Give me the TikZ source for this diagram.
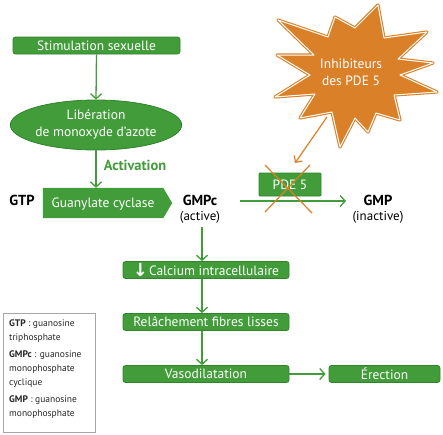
\documentclass[tikz,border=0pt]{standalone}
\usepackage{fontspec}
\setmainfont{PT Sans}
\newfontfamily\symfont{DejaVu Sans}
\usetikzlibrary{arrows.meta,shapes.geometric,calc}
\definecolor{gr}{RGB}{66,156,58}
\definecolor{grd}{RGB}{48,132,44}
\definecolor{org}{RGB}{217,128,40}
\begin{document}
\begin{tikzpicture}[x=1pt,y=-1pt,
  box/.style={draw=grd, fill=gr, rounded corners=2.5pt, line width=0.8pt, text=white,
    font=\fontsize{13.5}{15}\selectfont, minimum height=17pt, minimum width=166pt, inner sep=0pt},
  conn/.style={draw=gr, line width=1.3pt, -{Straight Barb[length=5pt,width=11pt,line width=1.3pt]}},
  oconn/.style={draw=org, line width=1.2pt, -{Straight Barb[length=5pt,width=10pt,line width=1.2pt]}},
  blk/.style={font=\fontsize{14.5}{16}\selectfont\bfseries, inner sep=0pt},
  sub/.style={font=\fontsize{13}{15}\selectfont, inner sep=0pt}]
\useasboundingbox (0,0) rectangle (443,434);

% top chain
\node[box, minimum width=167pt] (stim) at (96.5,45.5) {Stimulation sexuelle};
\node[ellipse, fill=gr, draw=grd, line width=0.8pt, minimum width=164pt, minimum height=50pt,
  text=white, align=center, inner sep=0pt, font=\fontsize{13.5}{17}\selectfont] (nox) at (96,125)
  {Libération\\de monoxyde d'azote};
\draw[conn] (stim.south) -- (nox.north);

% guanylate cyclase
\node[inner sep=0pt, minimum width=120pt, minimum height=30pt] (gcb) at (103,203) {};
\fill[gr] (gcb.north west) -- (gcb.north east) -- ($(gcb.east)+(9,0)$) -- (gcb.south east) -- (gcb.south west) -- cycle;
\node[text=white, font=\fontsize{13.5}{15}\selectfont, inner sep=0pt] (gc) at (103,204) {Guanylate cyclase};
\draw[conn] (nox.south) -- (nox.south |- gcb.north);
\node[text=gr, font=\fontsize{14.5}{16}\selectfont\bfseries, inner sep=0pt] (act) at (135,165) {Activation};

\node[blk] (gtp) at (22,200) {GTP};
\node[blk] (gmpc) at (200,200) {GMPc};
\node[sub] (active) at (200,217) {(active)};
\node[blk] (gmp) at (378,200) {GMP};
\node[sub] (inactive) at (378,217) {(inactive)};

% lower chain
\coordinate (vx) at (202,0);
\node[box] (ca) at (206,270) {\raisebox{-1pt}{\symfont\fontsize{18}{15}\selectfont\bfseries ↓}\hspace{1pt}Calcium intracellulaire};
\node[box] (rel) at (206,322) {Relâchement fibres lisses};
\node[box] (vaso) at (206,374) {Vasodilatation};
\node[box, minimum width=111pt] (ere) at (384.5,374) {Érection};
\draw[conn] (active.south -| vx) ++(0,4) -- (ca.north -| vx);
\draw[conn] (ca.south -| vx) -- (rel.north -| vx);
\draw[conn] (rel.south -| vx) -- (vaso.north -| vx);
\draw[conn] (vaso.east) -- ([xshift=-3pt]ere.west);

% PDE 5
\node[box, minimum width=62pt, minimum height=23pt, rounded corners=1pt] (pde) at (290,184.5) {PDE 5};
\coordinate (h1) at (240,201);
\coordinate (h2) at (346,201);
\draw[conn] (h1) -- (h2);
\coordinate (x1) at (265,165);
\coordinate (x2) at (312,213);
\coordinate (x3) at (310,165);
\coordinate (x4) at (265,212);
\draw[org, line width=1.2pt] (x1) -- (x2);
\draw[org, line width=1.2pt] (x3) -- (x4);

% starburst
\draw[org, fill=org, line width=3.2pt, line join=round]
 (433,63) -- (398,59) -- (427,32) -- (384,38) -- (378,5) -- (355,28) -- (335,17) -- (328,37)
 -- (278,20) -- (314,55) -- (277,55) -- (310,75) -- (275,97) -- (315,94) -- (300,118) -- (332,112)
 -- (340,147) -- (355,118) -- (368,132) -- (376,113) -- (400,120) -- (394,95) -- (437,92) -- (400,75) -- cycle;
\draw[white, line width=1pt, line join=round]
 (433,63) -- (398,59) -- (427,32) -- (384,38) -- (378,5) -- (355,28) -- (335,17) -- (328,37)
 -- (278,20) -- (314,55) -- (277,55) -- (310,75) -- (275,97) -- (315,94) -- (300,118) -- (332,112)
 -- (340,147) -- (355,118) -- (368,132) -- (376,113) -- (400,120) -- (394,95) -- (437,92) -- (400,75) -- cycle;
\node[text=white, align=center, font=\fontsize{13.5}{17}\selectfont, inner sep=0pt] (star) at (351,72) {Inhibiteurs\\des PDE 5};
\coordinate (s1) at (327,117);
\coordinate (s2) at (295,163);
\draw[oconn] (s1) -- (s2);

% legend
\node[draw=gray!70, line width=0.8pt, minimum width=92pt, minimum height=119pt, inner sep=0pt] (leg) at (49,372.5) {};
\node[anchor=north west, align=left, inner sep=0pt, text=black!85, font=\fontsize{9.5}{14}\selectfont] (legt) at (9,320)
 {\textbf{GTP} : guanosine\\triphosphate\\[3pt]\textbf{GMPc} : guanosine\\monophosphate\\cyclique\\[3pt]\textbf{GMP} : guanosine\\monophosphate};
\end{tikzpicture}
\end{document}
